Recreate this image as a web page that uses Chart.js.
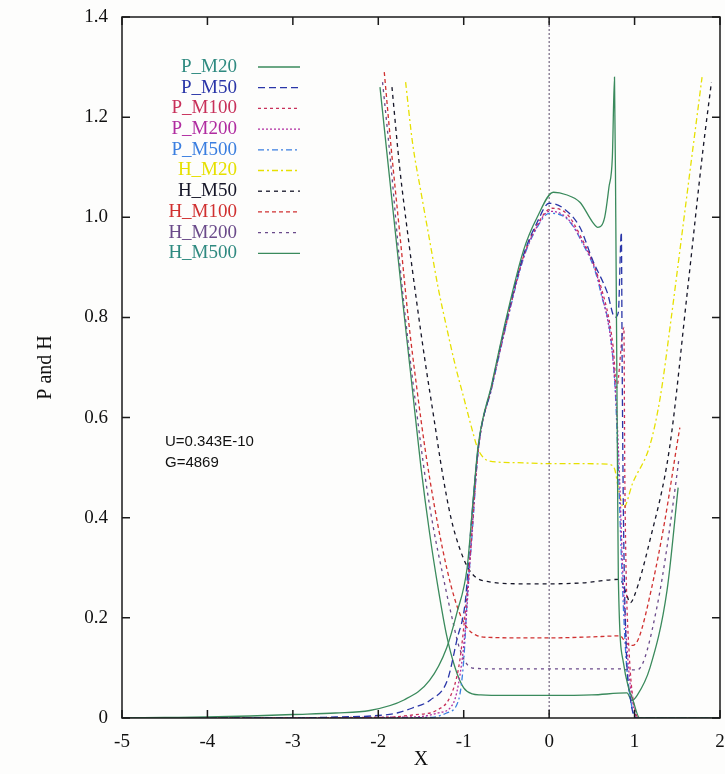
<!DOCTYPE html>
<html>
<head>
<meta charset="utf-8">
<script src="https://cdn.jsdelivr.net/npm/chart.js@4"></script>
<style>
  html, body { margin: 0; padding: 0; background: #fdfdfc; }
  #wrap { width: 725px; height: 774px; }
</style>
</head>
<body>
<div id="wrap"><canvas id="chart" width="725" height="774"></canvas></div>
<script>
// axis ticks
const xTicks = [-5, -4, -3, -2, -1, 0, 1, 2];
const yTicks = [0, 0.2, 0.4, 0.6, 0.8, 1, 1.2, 1.4];

const seriesNames = ['P_M20', 'P_M50', 'P_M100', 'P_M200', 'P_M500',
                     'H_M20', 'H_M50', 'H_M100', 'H_M200', 'H_M500'];

// values
const pM20X = [-5, -4.5, -4, -3.5, -3, -2.5, -2.1, -1.7, -1.4, -1.2, -1.08, -0.96, -0.89, -0.83, -0.67, -0.5, -0.3, -0.14, 0.05, 0.2, 0.36, 0.51, 0.57, 0.65, 0.7, 0.74, 0.765, 0.78, 0.8, 0.81, 0.87, 0.93, 0.98, 1.06, 1.5, 2];
const pM20Y = [0, 0.001, 0.002, 0.004, 0.007, 0.01, 0.015, 0.036, 0.075, 0.14, 0.21, 0.3, 0.435, 0.545, 0.668, 0.8, 0.934, 1.0, 1.05, 1.045, 1.03, 0.99, 0.98, 1.0, 1.06, 1.12, 1.28, 1.0, 0.5, 0.28, 0.11, 0.06, 0.036, 0, 0, 0];

const pM50X = [-5, -3, -2.5, -2, -1.78, -1.6, -1.39, -1.19, -1.08, -0.98, -0.92, -0.83, -0.67, -0.5, -0.3, -0.14, 0, 0.15, 0.36, 0.51, 0.68, 0.77, 0.81, 0.845, 0.855, 0.87, 0.9, 0.95, 1.03, 2];
const pM50Y = [0, 0, 0.002, 0.005, 0.01, 0.02, 0.036, 0.076, 0.156, 0.235, 0.37, 0.54, 0.665, 0.795, 0.925, 0.99, 1.028, 1.02, 0.98, 0.914, 0.85, 0.8, 0.81, 0.97, 0.7, 0.4, 0.15, 0.04, 0, 0];

const pM100X = [-5, -2, -1.6, -1.31, -1.16, -1.06, -1, -0.92, -0.83, -0.67, -0.5, -0.3, -0.14, 0.03, 0.2, 0.36, 0.6, 0.75, 0.79, 0.875, 0.885, 0.9, 0.94, 0.98, 1.05, 2];
const pM100Y = [0, 0.001, 0.006, 0.016, 0.042, 0.1, 0.18, 0.335, 0.535, 0.663, 0.79, 0.922, 0.985, 1.018, 1.008, 0.965, 0.865, 0.74, 0.66, 0.78, 0.5, 0.3, 0.12, 0.04, 0, 0];

const pM200X = [-5, -1.6, -1.3, -1.12, -1.04, -0.98, -0.92, -0.83, -0.67, -0.5, -0.3, -0.14, 0, 0.2, 0.36, 0.6, 0.77, 0.82, 0.86, 0.92, 0.98, 1.04, 2];
const pM200Y = [0, 0.002, 0.01, 0.03, 0.09, 0.18, 0.33, 0.535, 0.662, 0.788, 0.92, 0.982, 1.012, 1.0, 0.96, 0.857, 0.67, 0.5, 0.3, 0.12, 0.03, 0, 0];

const pM500X = [-5, -1.4, -1.2, -1.06, -1, -0.96, -0.9, -0.83, -0.67, -0.5, -0.3, -0.14, 0, 0.2, 0.36, 0.6, 0.77, 0.81, 0.85, 0.9, 0.96, 1.02, 2];
const pM500Y = [0, 0.001, 0.01, 0.036, 0.115, 0.235, 0.37, 0.535, 0.66, 0.786, 0.918, 0.98, 1.008, 0.998, 0.958, 0.853, 0.665, 0.5, 0.3, 0.12, 0.03, 0, 0];

const hM20X = [-1.68, -1.6, -1.5, -1.4, -1.3, -1.2, -1.1, -1, -0.9, -0.84, -0.78, -0.7, -0.4, 0, 0.4, 0.68, 0.76, 0.82, 0.87, 0.98, 1.18, 1.3, 1.43, 1.55, 1.68, 1.79];
const hM20Y = [1.27, 1.15, 1.05, 0.955, 0.86, 0.78, 0.705, 0.64, 0.575, 0.54, 0.522, 0.513, 0.51, 0.508, 0.508, 0.507, 0.5, 0.45, 0.42, 0.47, 0.545, 0.64, 0.8, 0.96, 1.134, 1.28];

const hM50X = [-1.84, -1.75, -1.65, -1.55, -1.45, -1.35, -1.25, -1.15, -1.05, -0.95, -0.85, -0.7, -0.3, 0, 0.4, 0.83, 0.9, 0.95, 1.0, 1.18, 1.41, 1.62, 1.8, 1.9];
const hM50Y = [1.26, 1.1, 0.96, 0.83, 0.71, 0.6, 0.49, 0.4, 0.34, 0.3, 0.28, 0.272, 0.268, 0.268, 0.27, 0.277, 0.25, 0.23, 0.245, 0.355, 0.54, 0.855, 1.134, 1.27];

const hM100X = [-1.93, -1.85, -1.75, -1.65, -1.55, -1.45, -1.35, -1.25, -1.15, -1.05, -0.95, -0.85, -0.7, -0.3, 0, 0.5, 0.83, 0.9, 0.98, 1.05, 1.2, 1.35, 1.51, 1.53];
const hM100Y = [1.29, 1.14, 0.97, 0.8, 0.66, 0.535, 0.43, 0.34, 0.265, 0.21, 0.178, 0.165, 0.161, 0.16, 0.16, 0.162, 0.164, 0.15, 0.145, 0.16, 0.26, 0.39, 0.56, 0.58];

const hM200X = [-1.95, -1.85, -1.75, -1.65, -1.55, -1.45, -1.35, -1.25, -1.15, -1.05, -0.95, -0.85, -0.6, 0, 0.5, 0.83, 0.92, 1.03, 1.26, 1.51, 1.52];
const hM200Y = [1.27, 1.1, 0.91, 0.75, 0.61, 0.48, 0.375, 0.29, 0.21, 0.14, 0.105, 0.099, 0.098, 0.098, 0.098, 0.098, 0.096, 0.096, 0.22, 0.505, 0.52];

const hM500X = [-1.98, -1.9, -1.8, -1.7, -1.6, -1.5, -1.4, -1.3, -1.2, -1.1, -1, -0.9, -0.8, -0.5, 0, 0.5, 0.91, 0.97, 1.03, 1.18, 1.38, 1.51];
const hM500Y = [1.26, 1.13, 0.97, 0.81, 0.655, 0.5, 0.37, 0.26, 0.165, 0.1, 0.06, 0.048, 0.046, 0.045, 0.045, 0.046, 0.05, 0.035, 0.045, 0.1, 0.255, 0.46];

const allX = [pM20X, pM50X, pM100X, pM200X, pM500X, hM20X, hM50X, hM100X, hM200X, hM500X];
const allY = [pM20Y, pM50Y, pM100Y, pM200Y, pM500Y, hM20Y, hM50Y, hM100Y, hM200Y, hM500Y];

const colors = ['#3a8a5c', '#2a36a8', '#c8305a', '#b02ca0', '#3a7ee0',
                '#e6e000', '#161628', '#d03030', '#6a4a8a', '#3a8a5c'];
// key text is a touch more teal than the lines for the green entries
const keyTextColors = ['#2f8a80', '#2a36a8', '#c8305a', '#b02ca0', '#3a7ee0',
                       '#e6e000', '#161628', '#d03030', '#6a4a8a', '#2f8a80'];
const dashes = [[], [7, 4], [3, 3], [2, 2], [6, 3, 2, 3],
                [6, 3, 2, 3], [4, 4], [4, 3], [3, 4], []];

const datasets = seriesNames.map((name, i) => ({
  label: name,
  data: allX[i].map((x, j) => ({ x: x, y: allY[i][j] })),
  borderColor: colors[i],
  borderDash: dashes[i],
  borderWidth: 1.3,
  pointRadius: 0,
  fill: false,
  cubicInterpolationMode: 'monotone'
}));

// gnuplot style box, mirrored inward ticks, zero axis, key and labels
const gnuplotLook = {
  id: 'gnuplotLook',
  beforeDatasetsDraw(chart) {
    const { ctx, chartArea, scales } = chart;
    const x0 = scales.x.getPixelForValue(0);
    ctx.save();
    ctx.strokeStyle = '#5a4a6a';
    ctx.lineWidth = 1;
    ctx.setLineDash([2, 2]);
    ctx.beginPath();
    ctx.moveTo(x0, chartArea.top);
    ctx.lineTo(x0, chartArea.bottom);
    ctx.stroke();
    ctx.restore();
  },
  afterDatasetsDraw(chart) {
    const { ctx, chartArea: a, scales } = chart;
    ctx.save();
    ctx.strokeStyle = '#1a1a1a';
    ctx.lineWidth = 1.5;
    ctx.strokeRect(a.left, a.top, a.right - a.left, a.bottom - a.top);
    const len = 8;
    ctx.beginPath();
    xTicks.forEach(v => {
      const px = scales.x.getPixelForValue(v);
      ctx.moveTo(px, a.bottom); ctx.lineTo(px, a.bottom - len);
      ctx.moveTo(px, a.top); ctx.lineTo(px, a.top + len);
    });
    yTicks.forEach(v => {
      const py = scales.y.getPixelForValue(v);
      ctx.moveTo(a.left, py); ctx.lineTo(a.left + len, py);
      ctx.moveTo(a.right, py); ctx.lineTo(a.right - len, py);
    });
    ctx.stroke();

    // key
    ctx.font = '19px "Liberation Serif"';
    ctx.textAlign = 'right';
    ctx.textBaseline = 'middle';
    chart.data.datasets.forEach((ds, i) => {
      const y = 67 + i * 20.7;
      ctx.fillStyle = keyTextColors[i];
      ctx.fillText(ds.label, 237, y);
      ctx.strokeStyle = ds.borderColor;
      ctx.lineWidth = 1.3;
      ctx.setLineDash(ds.borderDash);
      ctx.beginPath();
      ctx.moveTo(258, y);
      ctx.lineTo(300, y);
      ctx.stroke();
    });
    ctx.setLineDash([]);

    ctx.fillStyle = '#111';
    ctx.textAlign = 'left';
    ctx.font = '15px "Liberation Sans"';
    ctx.fillText('U=0.343E-10', 165, 442);
    ctx.fillText('G=4869', 165, 463);
    ctx.restore();
  }
};

new Chart(document.getElementById('chart'), {
  type: 'line',
  data: { datasets: datasets },
  plugins: [gnuplotLook],
  options: {
    responsive: false,
    animation: false,
    layout: { padding: { left: 0, right: 5, top: 17, bottom: 0 } },
    plugins: { legend: { display: false }, tooltip: { enabled: false } },
    scales: {
      x: {
        type: 'linear',
        min: -5, max: 2,
        afterFit: s => { s.height = 56; s.paddingLeft = 0; s.paddingRight = 0; },
        afterBuildTicks: s => { s.ticks = xTicks.map(v => ({ value: v })); },
        grid: { display: false, drawTicks: false },
        border: { display: false },
        ticks: { color: '#111', padding: 13, font: { family: 'Liberation Serif', size: 19 } },
        title: { display: true, text: 'X', color: '#111', padding: { top: 0, bottom: 2 },
                 font: { family: 'Liberation Serif', size: 20 } }
      },
      y: {
        min: 0, max: 1.4,
        afterFit: s => { s.width = 122; s.paddingTop = 0; s.paddingBottom = 0; },
        afterBuildTicks: s => { s.ticks = yTicks.map(v => ({ value: v })); },
        grid: { display: false, drawTicks: false },
        border: { display: false },
        ticks: { color: '#111', padding: 14, font: { family: 'Liberation Serif', size: 19 } },
        title: { display: true, text: 'P and H', color: '#111', padding: { top: 34, bottom: 0 },
                 font: { family: 'Liberation Serif', size: 20 } }
      }
    }
  }
});
</script>
</body>
</html>
